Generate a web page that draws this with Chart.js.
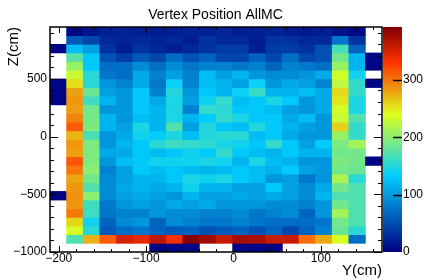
<!DOCTYPE html>
<html><head><meta charset="utf-8">
<script src="https://cdn.jsdelivr.net/npm/chart.js@4/dist/chart.umd.min.js"></script>
<style>html,body{margin:0;padding:0;background:#fff}</style>
</head><body>
<canvas id="c" width="423" height="280" style="width:423px;height:280px;display:block"></canvas>
<script>
// ---------- data ----------
const chartTitle = 'Vertex Position AllMC';
const xTitle = 'Y(cm)';
const yTitle = 'Z(cm)';
// bin edges (x: Y in cm, y: Z in cm)
const xEdges = [-210,-191,-172,-153,-134,-115,-96,-77,-58,-39,-20,-1,18,37,56,75,94,113,132,151,170];
const zEdges = [-1000,-925,-850,-775,-700,-625,-550,-475,-400,-325,-250,-175,-100,-25,50,125,200,275,350,425,500,575,650,725,800,875,950];
const xTickValues = [-200,-100,0,100];
const yTickValues = [-1000,-500,0,500];
const zTickValues = [0,100,200,300];
const zMax = 392;
// bin contents, one array per Z row (row 00 = lowest Z), 20 Y bins each
const row00 = [0,0,0,0,0,0,3,3,3,0,0,3,3,3,0,0,0,0,0,0];
const row01 = [0,172,274,312,352,342,362,334,389,377,357,374,372,357,357,303,277,236,71,0];
const row02 = [0,236,153,58,71,77,64,58,64,52,58,64,52,64,45,64,84,184,153,0];
const row03 = [0,257,141,64,90,97,64,90,84,77,77,84,77,71,71,71,77,188,172,0];
const row04 = [0,299,163,77,84,84,97,90,90,84,84,90,77,84,90,64,97,211,172,0];
const row05 = [0,285,163,77,97,103,97,109,103,109,97,97,97,90,90,84,97,188,172,0];
const row06 = [3,288,199,90,103,109,103,97,116,103,103,109,103,109,103,90,116,172,172,0];
const row07 = [0,285,172,90,109,116,109,116,141,116,116,103,103,129,103,90,109,188,172,0];
const row08 = [0,279,188,90,103,116,116,129,146,141,146,129,122,97,103,77,97,215,153,0];
const row09 = [0,299,199,84,103,129,122,129,122,116,122,129,122,116,131,103,97,188,184,0];
const row10 = [0,314,193,97,122,129,141,141,141,146,141,116,146,122,116,97,97,193,188,3];
const row11 = [0,281,193,109,109,129,122,129,141,131,158,129,122,116,129,116,116,188,188,0];
const row12 = [0,285,193,97,116,129,153,163,158,155,146,141,129,158,129,103,131,193,211,0];
const row13 = [0,272,168,97,109,141,131,146,122,150,153,153,122,129,109,97,97,206,158,0];
const row14 = [0,312,193,116,103,146,116,172,103,150,129,122,150,129,116,103,97,259,158,0];
const row15 = [0,294,188,116,97,122,116,146,116,131,158,146,129,129,109,122,97,229,172,0];
const row16 = [0,283,188,97,97,129,116,146,84,158,153,129,129,122,103,97,109,234,146,0];
const row17 = [3,285,163,116,97,129,109,146,103,141,158,122,129,146,129,97,109,250,146,0];
const row18 = [3,281,184,103,97,129,84,150,97,129,116,138,160,116,116,122,109,255,158,0];
const row19 = [3,253,153,97,84,109,77,138,84,122,116,103,138,97,109,103,84,224,158,3];
const row20 = [0,229,153,77,71,109,84,103,84,122,103,116,97,90,90,97,109,234,141,0];
const row21 = [0,206,129,71,71,90,71,90,77,84,84,77,84,64,84,77,71,206,116,3];
const row22 = [0,176,129,52,39,58,45,71,52,64,45,45,64,45,71,45,52,188,116,3];
const row23 = [3,122,103,32,19,32,26,19,26,32,39,39,19,39,39,32,52,167,64,0];
const row24 = [0,58,45,26,23,26,23,26,19,32,26,26,19,32,32,26,26,77,32,0];
const row25 = [0,4,14,20,22,20,18,20,22,20,24,18,20,22,18,16,20,12,6,0];
const rows = [row00,row01,row02,row03,row04,row05,row06,row07,row08,row09,row10,row11,row12,
              row13,row14,row15,row16,row17,row18,row19,row20,row21,row22,row23,row24,row25];

// ---------- palette (ROOT-style gradient) ----------
const palStops = [0, 0.34, 0.61, 0.84, 1];
const palR = [0, 0, 0.87, 1, 0.51];
const palG = [0, 0.81, 1, 0.2, 0];
const palB = [0.51, 1, 0.12, 0, 0];
function palette(f) {
  f = Math.max(0, Math.min(1, f));
  let i = 0;
  while (i < palStops.length - 2 && f > palStops[i + 1]) i++;
  const t = (f - palStops[i]) / (palStops[i + 1] - palStops[i]);
  const c = a => Math.round(255 * (a[i] + (a[i + 1] - a[i]) * t));
  return `rgb(${c(palR)},${c(palG)},${c(palB)})`;
}

// ---------- build cells ----------
const cells = [];
const cellColors = [];
rows.forEach((row, i) => {
  row.forEach((v, j) => {
    if (v > 0) {
      cells.push({ x: (xEdges[j] + xEdges[j + 1]) / 2, y: [zEdges[i], zEdges[i + 1]] });
      cellColors.push(palette(v / zMax));
    }
  });
});

const FONT = 'Liberation Sans, Arial, Helvetica, sans-serif';
const fmt = v => String(v).replace('-', '\u2212');
const setTicks = vals => s => { s.ticks = vals.map(v => ({ value: v })); };

// frame, inward ticks and colour bar
const decor = {
  id: 'decor',
  afterDatasetsDraw(chart) {
    const { ctx, chartArea: a, scales: { x, y, z } } = chart;
    ctx.save();
    // colour bar
    const zb = z.getPixelForValue(0), zt = z.getPixelForValue(zMax);
    const g = ctx.createLinearGradient(0, zb, 0, zt);
    for (let k = 0; k <= 100; k++) g.addColorStop(k / 100, palette(k / 100));
    ctx.fillStyle = g;
    const cbL = a.right + 1, cbW = 19;
    ctx.fillRect(cbL, zt, cbW, zb - zt);
    ctx.strokeStyle = '#000';
    ctx.lineWidth = 1.3;
    ctx.beginPath();
    zTickValues.forEach(v => {
      if (v <= 0) return;
      const py = Math.round(z.getPixelForValue(v)) + 0.5;
      ctx.moveTo(cbL + cbW, py); ctx.lineTo(cbL + cbW - 9, py);
    });
    ctx.stroke();

    // ticks
    ctx.lineWidth = 1;
    ctx.beginPath();
    const xMinor = 20, yMinor = 100;
    for (let v = Math.ceil(x.min / xMinor) * xMinor; v <= x.max; v += xMinor) {
      const major = xTickValues.includes(v);
      const L = major ? 6 : 3;
      const px = Math.round(x.getPixelForValue(v)) + 0.5;
      ctx.moveTo(px, a.bottom); ctx.lineTo(px, a.bottom - L);
      ctx.moveTo(px, a.top); ctx.lineTo(px, a.top + L);
    }
    for (let v = Math.ceil(y.min / yMinor) * yMinor; v <= y.max; v += yMinor) {
      const major = yTickValues.includes(v);
      const L = major ? 8 : 4;
      const py = Math.round(y.getPixelForValue(v)) + 0.5;
      ctx.moveTo(a.left, py); ctx.lineTo(a.left + L, py);
      ctx.moveTo(a.right, py); ctx.lineTo(a.right - L, py);
    }
    ctx.stroke();
    // frame
    ctx.lineWidth = 1.5;
    ctx.strokeRect(a.left, a.top, a.right - a.left, a.bottom - a.top);
    ctx.restore();
  }
};

new Chart(document.getElementById('c'), {
  type: 'bar',
  data: {
    datasets: [{
      data: cells,
      backgroundColor: cellColors,
      borderWidth: 0,
      barPercentage: 1,
      categoryPercentage: 1
    }]
  },
  plugins: [decor],
  options: {
    responsive: false,
    animation: false,
    devicePixelRatio: 1,
    events: [],
    layout: { padding: { left: 8, right: 0, top: 0, bottom: 0 } },
    plugins: {
      legend: { display: false },
      tooltip: { enabled: false },
      title: {
        display: true, text: chartTitle, color: '#000',
        font: { family: FONT, size: 14, weight: 'normal' },
        padding: { top: 4.5, bottom: 3.7 }
      }
    },
    scales: {
      x: {
        type: 'linear', position: 'bottom', min: -210, max: 170, offset: false,
        afterBuildTicks: setTicks(xTickValues),
        afterFit: s => { s.height = 28; },
        grid: { display: false, drawTicks: false },
        border: { display: false },
        ticks: { color: '#000', font: { family: FONT, size: 12, lineHeight: 1 }, padding: 0.5,
                 maxRotation: 0, autoSkip: false, callback: v => fmt(v) },
        title: { display: true, text: xTitle, align: 'end', color: '#000',
                 font: { family: FONT, size: 15 }, padding: 0 }
      },
      y: {
        type: 'linear', position: 'left', min: -1000, max: 950,
        afterBuildTicks: setTicks(yTickValues),
        afterFit: s => { s.width = 42; },
        grid: { display: false, drawTicks: false },
        border: { display: false },
        ticks: { color: '#000', font: { family: FONT, size: 12, lineHeight: 1 }, padding: 3,
                 autoSkip: false, callback: v => fmt(v) },
        title: { display: true, text: yTitle, align: 'end', color: '#000',
                 font: { family: FONT, size: 15 }, padding: { top: -3, bottom: 0 } }
      },
      z: {
        type: 'linear', position: 'right', min: 0, max: zMax,
        afterBuildTicks: setTicks(zTickValues),
        afterFit: s => { s.width = 41; },
        grid: { display: false, drawTicks: false },
        border: { display: false },
        ticks: { color: '#000', font: { family: FONT, size: 12, lineHeight: 1 }, padding: 21,
                 autoSkip: false, callback: v => fmt(v) }
      }
    }
  }
});
</script>
</body></html>
